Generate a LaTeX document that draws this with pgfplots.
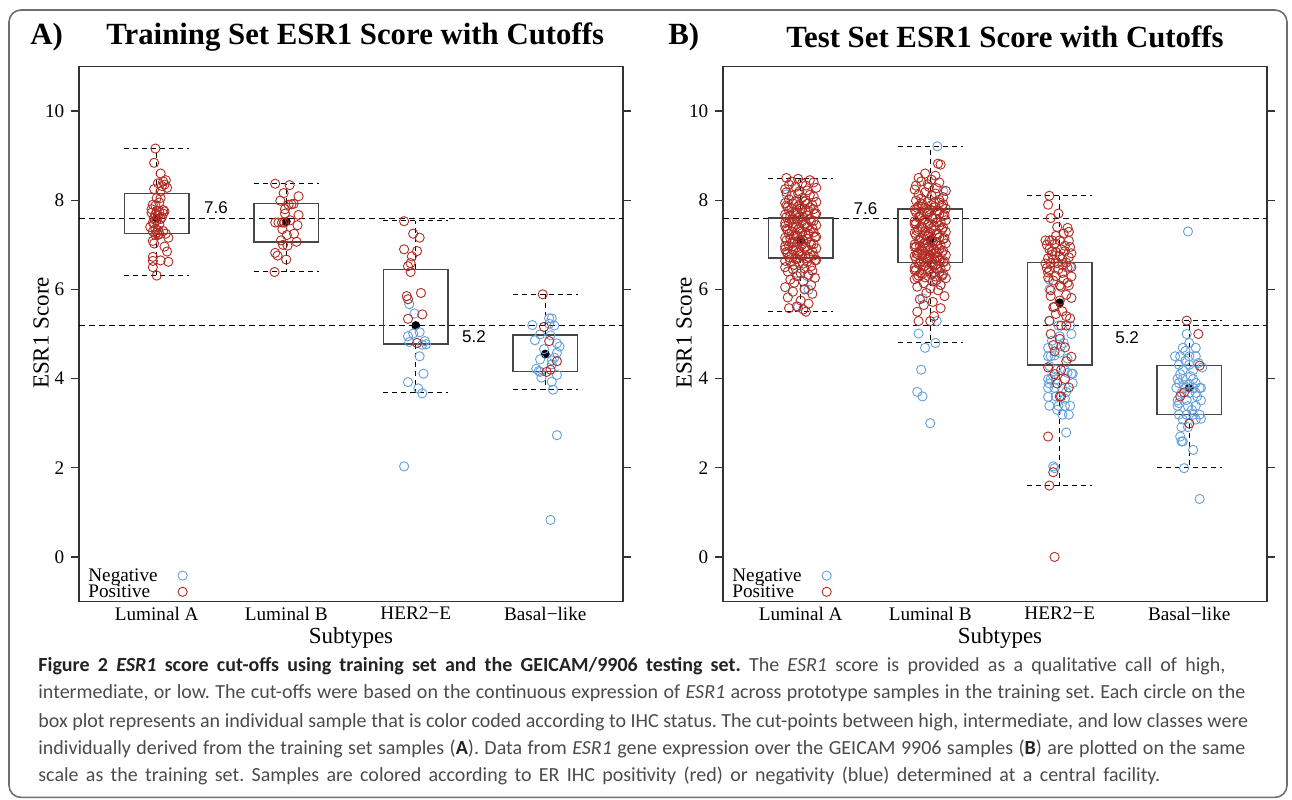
\documentclass[border=0pt]{standalone}
\usepackage{fontspec}
\setmainfont{Liberation Serif}
\newfontfamily\capfont{Carlito}
\newfontfamily\sansf{Liberation Sans}
\usepackage{pgfplots}
\pgfplotsset{compat=1.18}
\usepackage{pgfplotstable}
\usepgfplotslibrary{statistics}
\frenchspacing

\definecolor{posred}{RGB}{178,44,36}
\definecolor{negblue}{RGB}{100,160,220}
\definecolor{boxgray}{RGB}{70,70,70}
\definecolor{capgray}{RGB}{75,75,75}
\definecolor{capdark}{RGB}{35,35,35}
\definecolor{framegray}{RGB}{110,110,110}

% ---------------- training set ----------------
\pgfplotstableread{
x y
0.99 9.16
0.98 8.84
1.03 8.60
1.07 8.45
1.05 8.42
1.01 8.38
1.06 8.35
1.04 8.32
1.08 8.28
0.98 8.25
1.03 8.20
1.00 8.05
1.03 8.05
0.97 7.90
0.96 7.80
0.99 7.88
1.00 7.76
1.02 7.74
1.06 7.75
1.05 7.70
0.99 7.68
1.01 7.65
1.04 7.62
0.98 7.60
1.03 7.58
1.00 7.55
0.97 7.50
1.02 7.45
0.95 7.40
0.99 7.35
1.01 7.33
0.97 7.30
1.00 7.28
1.05 7.31
1.02 7.25
0.99 7.22
1.01 7.22
1.09 7.16
0.97 7.09
0.98 7.03
1.06 6.96
1.08 6.85
0.97 6.73
0.97 6.64
0.97 6.50
1.03 6.65
1.09 6.62
1.00 6.31
1.07 7.25
0.96 7.72
1.05 7.78
1.02 7.95
0.98 7.48
1.915 8.37
2.026 8.34
1.98 8.16
2.095 8.09
1.954 7.99
2.018 7.90
2.057 7.92
2.04 7.91
1.99 7.70
2.095 7.67
1.915 7.50
1.94 7.50
1.967 7.50
1.985 7.50
2.087 7.44
2.005 7.22
1.96 7.10
2.08 7.07
1.975 7.00
2.01 6.98
1.915 6.82
1.933 6.76
2.00 6.67
1.91 6.39
2.03 7.55
1.97 7.35
2.06 7.25
1.99 7.80
2.91 7.53
2.98 7.25
3.03 7.16
2.91 6.90
3.01 6.86
2.97 6.74
2.96 6.59
2.94 6.52
2.96 6.39
2.93 5.85
2.94 5.78
3.04 5.92
2.94 5.34
3.05 5.44
3.01 4.80
3.98 5.89
3.99 5.16
4.03 4.84
4.09 4.39
4.04 4.20
4.01 4.15
}\trPos

\pgfplotstableread{
x y
2.95 5.67
2.99 5.46
3.03 5.04
2.98 5.01
2.94 4.95
2.95 4.82
3.07 4.84
3.08 4.77
3.05 4.76
3.03 4.50
3.06 4.11
2.94 3.92
3.02 3.78
3.05 3.67
2.91 2.03
3.90 5.20
4.03 5.35
4.05 5.35
4.03 5.23
4.07 5.19
3.96 4.99
4.04 4.97
3.92 4.86
4.09 4.79
4.11 4.72
3.99 4.66
4.09 4.58
3.96 4.43
4.05 4.41
4.07 4.47
4.05 4.32
3.93 4.22
3.95 4.17
3.96 4.15
4.09 4.08
3.97 4.02
4.05 3.93
4.06 3.75
4.09 2.73
4.04 0.83
}\trNeg

% ---------------- test set ----------------
\pgfplotstableread{
x y
0.89 8.50
0.98 8.48
1.07 8.45
0.93 8.42
1.10 8.40
1.01 8.38
0.91 8.35
1.04 8.33
0.96 8.30
1.12 8.28
0.88 8.25
1.05 8.22
0.99 8.20
0.89 8.18
0.98 8.15
1.07 8.12
0.93 8.10
1.10 8.08
1.01 8.05
0.91 8.02
1.04 8.00
0.96 7.98
1.12 7.96
0.88 7.94
1.05 7.92
0.99 7.90
0.89 7.88
0.98 7.86
1.07 7.84
0.93 7.82
1.10 7.80
1.01 7.78
0.91 7.76
1.04 7.74
0.96 7.72
1.12 7.70
0.88 7.68
1.05 7.66
0.99 7.64
0.89 7.62
0.98 7.60
1.07 7.58
0.93 7.56
1.10 7.54
1.01 7.52
0.91 7.50
1.04 7.48
0.96 7.46
1.12 7.44
0.88 7.42
1.05 7.40
0.99 7.38
0.89 7.36
0.98 7.34
1.07 7.32
0.93 7.30
1.10 7.28
1.01 7.26
0.91 7.24
1.04 7.22
0.96 7.20
1.12 7.18
0.88 7.16
1.05 7.14
0.99 7.12
0.89 7.10
0.98 7.08
1.07 7.06
0.93 7.04
1.10 7.02
1.01 7.00
0.91 6.98
1.04 6.96
0.96 6.94
1.12 6.92
0.88 6.90
1.05 6.88
0.99 6.86
0.89 6.84
0.98 6.82
1.07 6.80
0.93 6.78
1.10 6.76
1.01 6.74
0.91 6.72
1.04 6.70
0.96 6.68
1.12 6.66
0.88 6.64
1.05 6.62
0.99 6.60
1.03 7.97
0.94 7.93
1.09 7.89
0.90 7.85
1.00 7.81
1.06 7.77
0.97 7.73
1.11 7.69
0.92 7.65
1.02 7.61
0.95 7.57
1.08 7.53
0.88 7.49
1.03 7.45
0.94 7.41
1.09 7.37
0.90 7.33
1.00 7.29
1.06 7.25
0.97 7.21
1.11 7.17
0.92 7.13
1.02 7.09
0.95 7.05
1.08 7.01
0.88 6.97
1.03 6.93
0.94 6.89
1.09 6.85
0.90 6.81
1.00 6.77
1.06 6.73
0.97 6.69
1.11 6.65
0.92 6.61
1.02 6.58
0.95 6.55
1.08 6.52
0.88 6.50
1.03 6.47
0.94 6.45
1.09 6.42
0.90 6.40
1.00 6.36
1.06 6.33
0.97 6.30
1.11 6.26
0.92 6.22
1.02 6.18
0.95 6.15
1.08 6.10
0.88 6.05
1.03 6.00
0.94 5.95
1.09 5.90
0.90 5.82
1.00 5.75
1.06 5.68
0.97 5.62
0.91 5.58
1.02 5.55
1.04 5.50
2.06 8.82
2.08 8.80
1.96 8.60
2.04 8.55
1.91 8.50
2.01 8.46
1.93 8.42
2.07 8.40
1.98 8.36
1.89 8.33
1.99 8.30
2.05 8.27
1.88 8.24
2.12 8.21
1.96 8.18
2.04 8.15
1.91 8.12
2.01 8.10
2.10 8.07
1.93 8.04
2.07 8.01
1.89 7.99
1.98 7.97
2.07 7.95
1.93 7.93
2.10 7.91
2.01 7.89
1.91 7.87
2.04 7.85
1.96 7.83
2.12 7.81
1.88 7.79
2.05 7.77
1.99 7.75
1.89 7.73
1.98 7.71
2.07 7.69
1.93 7.67
2.10 7.65
2.01 7.63
1.91 7.61
2.04 7.59
1.96 7.57
2.12 7.55
1.88 7.53
2.05 7.51
1.99 7.49
1.89 7.47
1.98 7.45
2.07 7.43
1.93 7.41
2.10 7.39
2.01 7.37
1.91 7.35
2.04 7.33
1.96 7.31
2.12 7.29
1.88 7.27
2.05 7.25
1.99 7.23
1.89 7.21
1.98 7.19
2.07 7.17
1.93 7.15
2.10 7.13
2.01 7.11
1.91 7.09
2.04 7.07
1.96 7.05
2.12 7.03
1.88 7.01
2.05 6.99
1.99 6.97
1.89 6.95
1.98 6.93
2.07 6.91
1.93 6.89
2.10 6.87
2.01 6.85
1.91 6.83
2.04 6.81
1.96 6.79
2.12 6.77
1.88 6.75
2.05 6.73
1.99 6.71
1.89 6.69
1.98 6.67
2.07 6.65
1.93 6.63
2.10 6.61
2.01 6.59
1.91 6.57
2.04 6.55
1.96 6.53
2.12 6.51
1.88 6.49
2.05 6.47
1.99 6.45
1.89 6.43
1.98 6.41
2.07 6.39
1.93 6.37
2.10 6.35
2.01 6.33
1.91 6.31
2.04 6.29
1.96 6.27
2.12 6.25
1.88 6.23
2.05 6.21
2.03 7.95
1.94 7.91
2.09 7.87
1.90 7.83
2.00 7.79
2.06 7.75
1.97 7.71
2.11 7.67
1.92 7.63
2.02 7.59
1.95 7.55
2.08 7.51
1.88 7.47
2.03 7.43
1.94 7.39
2.09 7.35
1.90 7.31
2.00 7.27
2.06 7.23
1.97 7.19
2.11 7.15
1.92 7.11
2.02 7.07
1.95 7.03
2.08 6.99
1.88 6.95
2.03 6.91
1.94 6.87
2.09 6.83
1.90 6.79
2.00 6.75
2.06 6.71
1.97 6.67
2.11 6.63
1.92 6.59
2.02 6.55
1.95 6.51
2.08 6.47
1.88 6.43
2.03 6.39
1.94 6.35
2.09 6.31
1.90 6.27
1.92 6.98
1.96 6.92
2.00 6.88
2.05 6.84
1.90 6.80
1.94 6.76
1.99 6.72
2.03 6.68
2.08 6.64
1.95 6.62
2.02 6.18
1.95 6.14
2.08 6.10
1.90 6.06
2.00 6.02
2.06 5.98
1.97 5.92
2.11 5.85
1.92 5.78
2.02 5.72
1.95 5.65
2.08 5.58
1.90 5.50
2.03 5.40
1.91 5.29
2.00 5.29
2.92 8.10
2.91 7.90
2.99 7.70
2.93 7.60
2.98 7.40
3.06 7.38
3.07 7.29
2.89 7.10
2.92 7.10
2.94 7.10
3.00 7.10
3.07 7.09
2.92 6.90
3.01 6.90
2.97 6.84
3.04 6.86
3.09 6.81
2.91 6.70
2.95 6.67
3.02 6.68
3.07 6.72
2.89 6.58
2.93 6.59
2.98 6.59
3.02 6.55
3.09 6.50
3.06 6.49
2.92 6.43
3.02 6.37
2.91 6.27
2.97 6.30
3.09 6.29
3.00 6.09
3.01 6.06
3.07 6.09
2.93 5.98
3.09 5.81
3.05 5.88
2.95 5.60
2.96 5.61
3.02 5.51
3.05 5.40
2.92 5.29
3.05 5.19
3.01 5.19
2.93 5.00
3.00 4.89
2.96 4.61
3.09 4.49
3.05 4.39
3.01 4.19
2.96 4.10
3.04 3.99
2.98 3.89
3.00 3.60
3.01 3.60
2.91 2.70
2.95 1.90
2.92 1.60
2.96 0.00
2.90 7.00
2.96 7.02
3.04 6.98
2.94 6.78
3.00 6.75
2.90 6.48
2.99 6.45
3.05 6.60
2.95 6.20
3.03 6.22
2.94 6.85
3.08 6.95
2.97 7.20
3.03 7.25
2.91 6.38
3.06 6.15
2.93 5.85
3.00 5.75
2.97 5.45
3.08 5.35
2.95 4.75
3.04 4.70
2.91 4.25
3.07 3.80
3.98 5.30
4.07 5.00
4.08 4.29
3.96 3.69
3.93 3.60
4.00 2.99
}\tePos

\pgfplotstableread{
x y
0.89 8.13
0.97 6.37
1.05 6.30
1.03 6.01
1.06 5.99
0.98 5.61
2.055 9.21
2.10 8.21
2.06 6.45
2.09 6.30
2.04 6.20
2.08 6.10
1.94 5.80
2.05 5.29
1.91 5.01
2.04 4.80
1.96 4.69
1.93 4.20
1.90 3.70
1.94 3.60
2.00 3.00
2.92 6.22
2.92 6.00
3.08 6.51
2.92 5.30
2.99 5.19
3.08 5.19
3.09 5.00
2.91 4.69
3.01 4.73
3.03 4.80
3.00 4.58
2.91 4.50
2.93 4.50
2.96 4.52
2.92 4.28
2.97 4.20
3.04 4.19
3.06 4.13
3.09 4.11
3.10 4.11
2.91 3.99
2.93 3.99
2.97 3.98
2.92 3.89
3.10 3.90
2.91 3.79
2.96 3.79
3.02 3.77
3.05 3.70
2.91 3.59
2.97 3.60
2.92 3.39
2.99 3.39
3.04 3.39
3.08 3.39
3.02 3.19
3.07 3.19
3.05 2.79
2.96 1.99
2.95 2.03
2.94 4.85
3.00 4.95
3.06 4.45
2.95 4.05
3.04 3.55
2.98 3.30
3.99 7.30
3.98 5.00
4.00 4.80
3.95 4.69
4.05 4.69
3.89 4.50
3.93 4.50
4.00 4.50
4.05 4.50
3.92 4.31
4.00 4.31
3.95 4.19
4.03 4.19
3.91 3.99
3.95 3.99
4.03 3.99
3.92 3.90
4.00 3.88
4.05 3.90
4.08 3.79
3.90 3.79
3.97 3.79
4.03 3.79
4.09 3.79
3.94 3.68
4.00 3.68
4.05 3.68
3.91 3.51
3.98 3.52
4.09 3.51
3.91 3.39
3.99 3.38
4.05 3.39
3.92 3.19
3.98 3.19
4.03 3.19
4.08 3.19
3.95 3.08
4.05 3.08
4.09 3.10
3.94 2.91
3.99 2.91
3.93 2.70
3.94 2.59
3.95 2.59
4.03 2.40
3.96 1.99
4.08 1.30
3.97 4.40
4.07 4.35
3.93 4.10
4.01 4.05
3.96 3.85
4.06 3.60
3.92 3.45
4.02 3.30
3.97 4.62
4.10 4.25
}\teNeg

\pgfplotsset{
  boxplot/draw direction=y,
  boxplot/every box/.style={draw=boxgray, line width=0.8pt},
  boxplot/every whisker/.style={draw=black, line width=0.5pt, dash pattern=on 2.5pt off 2pt},
  boxplot/every median/.style={draw=none},
  esr/.style={
    scale only axis, width=272pt, height=267.5pt,
    xmin=0.4, xmax=4.6, ymin=-1, ymax=11,
    xtick={1,2,3,4},
    xticklabels={Luminal A,Luminal B,HER2−E,Basal−like},
    ytick={0,2,4,6,8,10},
    xtick pos=bottom, ytick pos=both, yticklabel pos=left,
    tick align=outside, major tick length=3.8pt,
    xtick style={draw=none},
    ytick style={draw=black!80, line width=0.6pt},
    axis line style={draw=black!80, line width=0.7pt},
    tick label style={font=\fontsize{9.6}{11}\selectfont, text=black},
    xticklabel style={yshift=4.5pt},
    /pgf/number format/assume math mode=true,
    legend plot pos=right,
    legend cell align=left,
    legend image code/.code={\path[draw=none, fill=none] (0pt,0pt) -- (15pt,0pt);
      \draw[##1] plot[only marks] coordinates {(12.5pt,0pt)};},
    legend style={at={(0.0165,0.06)}, anchor=north west, draw=none, fill=none,
      font=\fontsize{9.6}{11}\selectfont, inner sep=0pt, row sep=2.3pt, column sep=0pt,
      nodes={inner sep=0pt, text height=5.8pt, text depth=0pt}},
  },
  cut/.style={forget plot, black, line width=0.5pt, dash pattern=on 2.8pt off 2.2pt},
  neg/.style={only marks, mark=o, mark size=2.3pt, draw=negblue, mark options={draw=negblue, line width=0.45pt}},
  pos/.style={only marks, mark=o, mark size=2.3pt, draw=posred, mark options={draw=posred, line width=0.45pt}},
  med/.style={forget plot, only marks, mark=*, mark size=2pt, black},
}
\newcommand{\bx}[6]{\addplot[forget plot, draw=boxgray, boxplot prepared={draw direction=y, draw position=#1, lower whisker=#2, lower quartile=#3, median=#4, upper quartile=#5, upper whisker=#6, box extend=0.5, whisker extend=0.5}] coordinates {};}

\begin{document}
\begin{tikzpicture}
\useasboundingbox (0,0) rectangle (646pt,399.5pt);
\draw[framegray, line width=0.8pt, rounded corners=6pt] (4.5pt,0.8pt) rectangle (643.5pt,394.5pt);

% ---------- panel A ----------
\begin{axis}[esr, at={(39.5pt,98.75pt)}, anchor=south west]
\addplot[cut] coordinates {(0.4,7.6) (4.6,7.6)};
\addplot[cut] coordinates {(0.4,5.2) (4.6,5.2)};
\bx{1}{6.31}{7.25}{7.60}{8.15}{9.15}
\bx{2}{6.40}{7.07}{7.52}{7.93}{8.37}
\bx{3}{3.68}{4.77}{5.19}{6.45}{7.54}
\bx{4}{3.75}{4.16}{4.55}{4.98}{5.89}
\addplot[med] coordinates {(1,7.60) (2,7.52) (3,5.19) (4,4.55)};
\addplot[neg] table[x=x,y=y] {\trNeg};
\addlegendentry{Negative}
\addplot[pos] table[x=x,y=y] {\trPos};
\addlegendentry{Positive}
\node[font=\sansf\fontsize{8.5}{10}\selectfont] at (axis cs:1.458,7.84) {7.6};
\node[font=\sansf\fontsize{8.5}{10}\selectfont] at (axis cs:3.45,4.95) {5.2};
\end{axis}

% ---------- panel B ----------
\begin{axis}[esr, at={(361.5pt,98.75pt)}, anchor=south west]
\addplot[cut] coordinates {(0.4,7.6) (4.6,7.6)};
\addplot[cut] coordinates {(0.4,5.2) (4.6,5.2)};
\bx{1}{5.50}{6.70}{7.10}{7.60}{8.49}
\bx{2}{4.80}{6.60}{7.12}{7.80}{9.21}
\bx{3}{1.60}{4.30}{5.70}{6.60}{8.10}
\bx{4}{2.00}{3.19}{3.79}{4.29}{5.30}
\addplot[med] coordinates {(1,7.10) (2,7.12) (3,5.70) (4,3.79)};
\addplot[neg] table[x=x,y=y] {\teNeg};
\addlegendentry{Negative}
\addplot[pos] table[x=x,y=y] {\tePos};
\addlegendentry{Positive}
\node[font=\sansf\fontsize{8.5}{10}\selectfont] at (axis cs:1.50,7.82) {7.6};
\node[font=\sansf\fontsize{8.5}{10}\selectfont] at (axis cs:3.52,4.92) {5.2};
\end{axis}

% ---------- titles and labels ----------
\begin{scope}[every node/.style={anchor=west, inner sep=0pt, font=\bfseries\fontsize{15.4}{18}\selectfont}]
\node at (15pt,381pt) {A)};
\node at (53pt,381pt) {Training Set ESR1 Score with Cutoffs};
\node at (334pt,381pt) {B)};
\node at (393pt,381pt) {Test Set ESR1 Score with Cutoffs};
\end{scope}

\node[rotate=90, font=\fontsize{11.5}{13}\selectfont] at (20.5pt,233pt) {ESR1 Score};
\node[rotate=90, font=\fontsize{11.5}{13}\selectfont] at (342pt,233pt) {ESR1 Score};
\node[font=\fontsize{11.5}{13}\selectfont] at (175.5pt,80.5pt) {Subtypes};
\node[font=\fontsize{11.5}{13}\selectfont] at (500pt,80.5pt) {Subtypes};

% ---------- caption ----------
\begin{scope}[every node/.style={anchor=base west, inner sep=0pt, text=capgray, font=\capfont\fontsize{10}{11}\selectfont}]
\node at (19pt,63.5pt) {\makebox[593.5pt][s]{{\bfseries\color{capdark}Figure 2 \textit{ESR1} score cut-offs using training set and the GEICAM/9906 testing set.} The \textit{ESR1} score is provided as a qualitative call of high,}};
\node at (19pt,50pt) {\makebox[603.5pt][s]{intermediate, or low. The cut-offs were based on the continuous expression of \textit{ESR1} across prototype samples in the training set. Each circle on the}};
\node at (19pt,36pt) {\makebox[605pt][s]{box plot represents an individual sample that is color coded according to IHC status. The cut-points between high, intermediate, and low classes were}};
\node at (19pt,22.5pt) {\makebox[603.5pt][s]{individually derived from the training set samples ({\bfseries\color{capdark}A}). Data from \textit{ESR1} gene expression over the GEICAM 9906 samples ({\bfseries\color{capdark}B}) are plotted on the same}};
\node at (19pt,9pt) {\makebox[561pt][s]{scale as the training set. Samples are colored according to ER IHC positivity (red) or negativity (blue) determined at a central facility.}};
\end{scope}
\end{tikzpicture}
\end{document}
